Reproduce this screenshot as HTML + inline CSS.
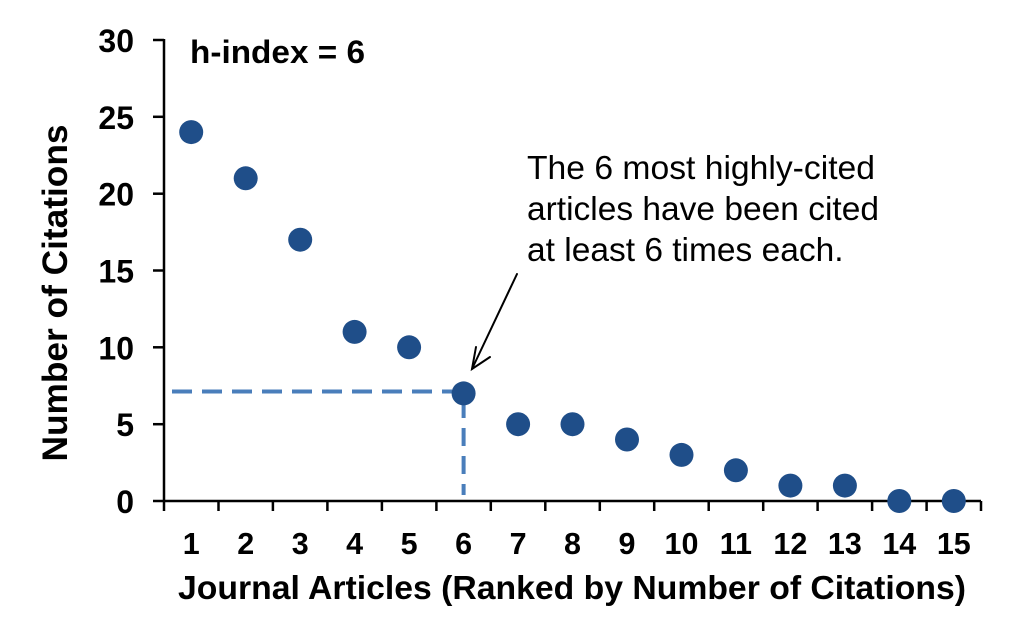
<!DOCTYPE html>
<html>
<head>
<meta charset="utf-8">
<style>
  html,body{margin:0;padding:0;background:#fff;}
  svg{display:block;}
  .b{font-family:"Liberation Sans",Arial,sans-serif;font-weight:bold;fill:#000;}
  .r{font-family:"Liberation Sans",Arial,sans-serif;fill:#000;}
</style>
</head>
<body>
<svg width="1024" height="626" viewBox="0 0 1024 626" xmlns="http://www.w3.org/2000/svg">
  <rect width="1024" height="626" fill="#fff"/>

  <!-- Axes -->
  <line x1="164" y1="39" x2="164" y2="501" stroke="#000" stroke-width="2.5"/>
  <line x1="163" y1="501" x2="981" y2="501" stroke="#000" stroke-width="2.5"/>

  <!-- Y ticks -->
  <g stroke="#000" stroke-width="2.5">
    <line x1="153" y1="40" x2="164" y2="40"/>
    <line x1="153" y1="116.8" x2="164" y2="116.8"/>
    <line x1="153" y1="193.7" x2="164" y2="193.7"/>
    <line x1="153" y1="270.5" x2="164" y2="270.5"/>
    <line x1="153" y1="347.3" x2="164" y2="347.3"/>
    <line x1="153" y1="424.2" x2="164" y2="424.2"/>
    <line x1="153" y1="501" x2="164" y2="501"/>
  </g>

  <!-- X ticks -->
  <g stroke="#000" stroke-width="2.5">
    <line x1="164" y1="501" x2="164" y2="511"/>
    <line x1="218.5" y1="501" x2="218.5" y2="511"/>
    <line x1="272.9" y1="501" x2="272.9" y2="511"/>
    <line x1="327.4" y1="501" x2="327.4" y2="511"/>
    <line x1="381.9" y1="501" x2="381.9" y2="511"/>
    <line x1="436.4" y1="501" x2="436.4" y2="511"/>
    <line x1="490.8" y1="501" x2="490.8" y2="511"/>
    <line x1="545.3" y1="501" x2="545.3" y2="511"/>
    <line x1="599.8" y1="501" x2="599.8" y2="511"/>
    <line x1="654.2" y1="501" x2="654.2" y2="511"/>
    <line x1="708.7" y1="501" x2="708.7" y2="511"/>
    <line x1="763.2" y1="501" x2="763.2" y2="511"/>
    <line x1="817.6" y1="501" x2="817.6" y2="511"/>
    <line x1="872.1" y1="501" x2="872.1" y2="511"/>
    <line x1="926.6" y1="501" x2="926.6" y2="511"/>
    <line x1="981" y1="501" x2="981" y2="511"/>
  </g>

  <!-- Y tick labels -->
  <g class="b" font-size="32" text-anchor="end">
    <text x="134" y="52">30</text>
    <text x="134" y="128.8">25</text>
    <text x="134" y="205.7">20</text>
    <text x="134" y="282.5">15</text>
    <text x="134" y="359.3">10</text>
    <text x="134" y="436.2">5</text>
    <text x="134" y="513">0</text>
  </g>

  <!-- X tick labels -->
  <g class="b" font-size="30.5" text-anchor="middle">
    <text x="191.2" y="554">1</text>
    <text x="245.7" y="554">2</text>
    <text x="300.2" y="554">3</text>
    <text x="354.6" y="554">4</text>
    <text x="409.1" y="554">5</text>
    <text x="463.6" y="554">6</text>
    <text x="518.1" y="554">7</text>
    <text x="572.5" y="554">8</text>
    <text x="627" y="554">9</text>
    <text x="681.5" y="554">10</text>
    <text x="735.9" y="554">11</text>
    <text x="790.4" y="554">12</text>
    <text x="844.9" y="554">13</text>
    <text x="899.3" y="554">14</text>
    <text x="953.8" y="554">15</text>
  </g>

  <!-- Axis titles -->
  <text class="b" font-size="33.5" x="178" y="599" textLength="788" lengthAdjust="spacingAndGlyphs">Journal Articles (Ranked by Number of Citations)</text>
  <text class="b" font-size="35" transform="translate(67,293) rotate(-90)" text-anchor="middle" textLength="337" lengthAdjust="spacingAndGlyphs">Number of Citations</text>

  <!-- h-index label -->
  <text class="b" font-size="32.5" x="190" y="63" textLength="175" lengthAdjust="spacingAndGlyphs">h-index = 6</text>

  <!-- Dashed guide lines -->
  <g stroke="#4a7ebb" stroke-width="4" fill="none">
    <line x1="172" y1="391.5" x2="452" y2="391.5" stroke-dasharray="20,10"/>
    <line x1="463.6" y1="400" x2="463.6" y2="495" stroke-dasharray="18,10"/>
  </g>

  <!-- Data points -->
  <g fill="#1f4e89">
    <circle cx="191.2" cy="132.1" r="12"/>
    <circle cx="245.7" cy="178.3" r="12"/>
    <circle cx="300.2" cy="239.7" r="12"/>
    <circle cx="354.6" cy="331.9" r="12"/>
    <circle cx="409.1" cy="347.3" r="12"/>
    <circle cx="463.6" cy="393.4" r="12"/>
    <circle cx="518.1" cy="424.2" r="12"/>
    <circle cx="572.5" cy="424.2" r="12"/>
    <circle cx="627" cy="439.5" r="12"/>
    <circle cx="681.5" cy="454.9" r="12"/>
    <circle cx="735.9" cy="470.3" r="12"/>
    <circle cx="790.4" cy="485.6" r="12"/>
    <circle cx="844.9" cy="485.6" r="12"/>
    <circle cx="899.3" cy="501" r="12"/>
    <circle cx="953.8" cy="501" r="12"/>
  </g>

  <!-- Annotation -->
  <g class="r" font-size="33.5">
    <text x="527" y="179" textLength="348" lengthAdjust="spacingAndGlyphs">The 6 most highly-cited</text>
    <text x="527" y="220">articles have been cited</text>
    <text x="527" y="261">at least 6 times each.</text>
  </g>

  <!-- Arrow -->
  <g stroke="#000" stroke-width="2" fill="none" stroke-linecap="round">
    <line x1="517" y1="274" x2="472" y2="369"/>
    <polyline points="476,347 472,369 490,357"/>
  </g>
</svg>
</body>
</html>
